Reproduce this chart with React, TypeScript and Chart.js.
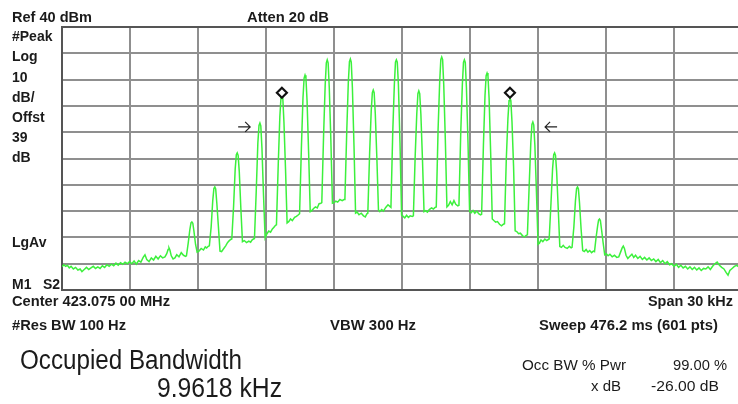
import { useEffect, useRef } from "react";
import { Chart, registerables } from "chart.js";

Chart.register(...registerables);

// ---- axis settings (kHz offset from centre, dBm) ----
const xMinKHz = -15;
const xMaxVisibleKHz = 14.82;
const xGridKHz = [-15, -12, -9, -6, -3, 0, 3, 6, 9, 12];
const yMinDbm = -60;
const yMaxDbm = 40;
const yGridDbm = [-60, -50, -40, -30, -20, -10, 0, 10, 20, 30, 40];

// ---- trace: [kHz from centre, dBm] ----
const traceLowLeft: [number, number][] = [
  [-15.0, -51.2], [-14.92, -50.4], [-14.84, -51.0], [-14.76, -50.6], [-14.68, -51.6], [-14.6, -51.0],
  [-14.5, -52.0], [-14.4, -51.4], [-14.3, -52.4], [-14.2, -52.0], [-14.12, -53.0], [-14.02, -52.2],
  [-13.92, -51.4], [-13.82, -52.2], [-13.72, -51.6], [-13.62, -51.0], [-13.52, -51.8], [-13.42, -51.2],
  [-13.32, -51.8], [-13.22, -50.8], [-13.12, -51.4], [-13.02, -50.4], [-12.92, -51.0], [-12.82, -50.2],
  [-12.72, -50.8], [-12.62, -49.8], [-12.52, -50.6], [-12.42, -49.6], [-12.32, -50.2], [-12.22, -49.4],
  [-12.12, -50.0], [-12.02, -49.2], [-11.92, -50.0], [-11.82, -49.0], [-11.72, -50.2], [-11.62, -48.8],
  [-11.52, -49.4], [-11.42, -47.6], [-11.34, -46.6], [-11.26, -48.4], [-11.16, -49.2], [-11.06, -47.8],
  [-10.96, -48.6], [-10.86, -47.2], [-10.76, -48.2], [-10.66, -47.0], [-10.56, -47.8],
];

const traceCarriers: [number, number][] = [
  // A
  [-10.46, -47.4], [-10.38, -46.2], [-10.32, -44.6], [-10.28, -44.0], [-10.24, -44.8], [-10.18, -47.0], [-10.1, -48.2],
  [-10.02, -47.8], [-9.94, -46.6], [-9.84, -47.4], [-9.74, -45.8], [-9.64, -46.8], [-9.55, -47.2],
  // B
  [-9.51, -47.0], [-9.43, -42.0], [-9.36, -37.0], [-9.31, -34.5], [-9.27, -34.1], [-9.23, -34.6], [-9.18, -37.6], [-9.11, -42.6], [-9.04, -45.6],
  [-8.96, -45.2], [-8.86, -44.2], [-8.76, -44.8], [-8.68, -43.6], [-8.62, -44.0], [-8.55, -43.4],
  // C
  [-8.5, -43.2], [-8.42, -36.0], [-8.35, -26.0], [-8.3, -21.4], [-8.26, -20.8], [-8.22, -21.6], [-8.17, -27.0], [-8.1, -36.0], [-8.03, -45.2],
  [-7.96, -45.4], [-7.88, -44.4], [-7.78, -43.2], [-7.7, -42.0], [-7.64, -41.4], [-7.56, -40.8],
  // D
  [-7.51, -40.6], [-7.43, -28.0], [-7.36, -14.0], [-7.31, -8.6], [-7.27, -7.9], [-7.23, -8.8], [-7.18, -15.0], [-7.11, -29.0], [-7.04, -41.6],
  [-6.96, -41.2], [-6.86, -42.0], [-6.76, -41.4], [-6.68, -41.8], [-6.62, -41.0], [-6.55, -40.6],
  // E
  [-6.51, -40.4], [-6.43, -22.0], [-6.36, -4.0], [-6.31, 2.6], [-6.27, 3.5], [-6.23, 2.4], [-6.18, -6.0], [-6.11, -24.0], [-6.04, -40.2],
  [-5.96, -38.6], [-5.88, -37.6], [-5.8, -38.0], [-5.72, -36.8], [-5.66, -36.2], [-5.58, -35.4],
  // F
  [-5.54, -35.2], [-5.46, -12.0], [-5.39, 6.0], [-5.34, 13.2], [-5.3, 14.1], [-5.26, 13.0], [-5.21, 4.0], [-5.14, -14.0], [-5.07, -34.5],
  [-5.0, -34.0], [-4.92, -33.0], [-4.84, -33.6], [-4.74, -32.4], [-4.66, -32.0], [-4.57, -31.4],
  // G
  [-4.52, -31.0], [-4.44, -6.0], [-4.37, 13.0], [-4.32, 20.6], [-4.28, 21.7], [-4.24, 20.6], [-4.19, 12.0], [-4.12, -8.0], [-4.05, -30.2],
  [-3.98, -29.8], [-3.9, -29.0], [-3.82, -28.4], [-3.74, -28.8], [-3.66, -27.2], [-3.58, -27.0],
  // H
  [-3.54, -26.8], [-3.46, -1.0], [-3.39, 18.0], [-3.34, 26.4], [-3.3, 27.5], [-3.26, 26.4], [-3.21, 17.0], [-3.14, -3.0], [-3.07, -27.0],
  [-3.0, -26.8], [-2.92, -26.2], [-2.84, -26.6], [-2.74, -25.6], [-2.64, -26.0], [-2.56, -25.6],
  // I
  [-2.52, -25.4], [-2.44, 0.0], [-2.37, 19.0], [-2.32, 26.8], [-2.28, 27.8], [-2.24, 26.6], [-2.19, 17.0], [-2.12, -5.0], [-2.05, -30.8],
  [-1.98, -30.4], [-1.9, -31.4], [-1.8, -30.8], [-1.7, -31.8], [-1.62, -32.2], [-1.55, -31.0],
  // J
  [-1.51, -30.8], [-1.43, -8.0], [-1.36, 8.0], [-1.31, 15.0], [-1.27, 16.0], [-1.23, 15.0], [-1.18, 7.0], [-1.11, -10.0], [-1.04, -29.6],
  [-0.98, -30.2], [-0.9, -29.4], [-0.82, -30.0], [-0.72, -28.6], [-0.62, -27.6], [-0.54, -28.2],
  // K
  [-0.49, -28.6], [-0.41, 0.0], [-0.34, 18.0], [-0.29, 26.6], [-0.25, 27.5], [-0.21, 26.6], [-0.16, 18.0], [-0.09, -4.0], [-0.02, -31.5],
  [0.05, -32.0], [0.12, -32.6], [0.2, -31.6], [0.28, -32.4], [0.36, -31.8], [0.45, -32.0],
  // L
  [0.5, -31.8], [0.58, -9.0], [0.65, 7.0], [0.7, 14.7], [0.74, 15.7], [0.78, 14.7], [0.83, 7.0], [0.9, -10.0], [0.97, -30.2],
  [1.04, -29.8], [1.12, -30.4], [1.2, -29.4], [1.3, -28.8], [1.38, -29.2], [1.46, -28.6],
  // M
  [1.51, -28.4], [1.59, 1.0], [1.66, 19.0], [1.71, 27.6], [1.75, 28.6], [1.79, 27.6], [1.84, 18.0], [1.91, -3.0], [1.98, -28.4],
  [2.05, -27.8], [2.13, -26.4], [2.21, -27.6], [2.29, -26.0], [2.37, -27.4], [2.46, -28.0],
  // N
  [2.51, -27.8], [2.59, 0.0], [2.66, 18.0], [2.71, 26.5], [2.75, 27.5], [2.79, 26.5], [2.84, 17.0], [2.91, -4.0], [2.98, -30.2],
  [3.05, -30.6], [3.13, -29.8], [3.21, -30.8], [3.3, -30.0], [3.38, -31.0], [3.46, -31.4],
  // O
  [3.51, -31.2], [3.59, -5.0], [3.66, 14.0], [3.71, 21.5], [3.75, 22.5], [3.79, 21.4], [3.84, 13.0], [3.91, -8.0], [3.98, -33.0],
  [4.05, -33.6], [4.13, -34.2], [4.21, -34.0], [4.3, -35.0], [4.39, -35.6], [4.47, -35.0],
  // P
  [4.52, -34.8], [4.6, -10.0], [4.67, 5.0], [4.72, 12.0], [4.76, 13.0], [4.8, 12.0], [4.85, 4.0], [4.92, -13.0], [4.99, -37.5],
  [5.06, -37.8], [5.14, -38.6], [5.22, -38.4], [5.32, -39.4], [5.4, -39.8], [5.48, -39.2],
  // Q
  [5.53, -39.0], [5.61, -20.0], [5.68, -4.0], [5.73, 3.0], [5.77, 3.9], [5.81, 2.8], [5.86, -5.0], [5.93, -23.0], [6.0, -42.6],
  [6.06, -42.2], [6.13, -41.0], [6.21, -41.6], [6.3, -40.6], [6.38, -41.2], [6.45, -40.8],
  // R
  [6.49, -40.6], [6.57, -27.0], [6.64, -14.0], [6.69, -8.6], [6.73, -7.9], [6.77, -8.8], [6.82, -15.0], [6.89, -29.0], [6.96, -43.5],
  [7.03, -43.8], [7.11, -43.0], [7.19, -43.8], [7.29, -44.2], [7.38, -43.4], [7.46, -44.0],
  // S
  [7.5, -43.8], [7.58, -36.0], [7.65, -26.0], [7.7, -21.4], [7.74, -20.8], [7.78, -21.6], [7.83, -27.0], [7.9, -37.0], [7.97, -45.0],
  [8.04, -45.4], [8.12, -44.6], [8.2, -45.6], [8.28, -45.0], [8.36, -45.8], [8.44, -45.2],
  // T
  [8.49, -45.4], [8.56, -40.0], [8.63, -35.5], [8.67, -33.4], [8.71, -33.0], [8.75, -33.6], [8.8, -37.0], [8.87, -42.0], [8.94, -46.6],
  [9.01, -46.2], [9.09, -47.0], [9.17, -46.4], [9.27, -47.4], [9.37, -46.8], [9.47, -47.6],
  // U
  [9.56, -47.4], [9.64, -45.6], [9.71, -44.0], [9.76, -43.3], [9.81, -44.2], [9.88, -46.8], [9.96, -48.0],
];

const traceLowRight: [number, number][] = [
  [10.05, -47.2], [10.14, -46.4], [10.22, -47.6], [10.3, -46.8], [10.4, -48.0], [10.5, -47.2], [10.6, -48.4],
  [10.7, -47.6], [10.8, -48.6], [10.9, -47.8], [11.0, -48.8], [11.1, -48.2], [11.2, -49.2], [11.3, -48.4],
  [11.4, -49.6], [11.5, -48.8], [11.6, -50.0], [11.7, -49.2], [11.8, -50.4], [11.9, -50.0], [12.0, -51.0],
  [12.1, -50.2], [12.2, -51.4], [12.3, -50.6], [12.4, -51.6], [12.5, -51.0], [12.6, -52.0], [12.7, -51.2],
  [12.8, -52.2], [12.9, -51.4], [13.0, -52.4], [13.1, -51.6], [13.2, -52.6], [13.3, -51.8], [13.4, -52.0],
  [13.5, -51.2], [13.6, -52.2], [13.7, -51.0], [13.8, -50.0], [13.9, -49.4], [14.0, -50.6], [14.1, -51.4],
  [14.2, -52.0], [14.3, -53.4], [14.38, -54.4], [14.46, -52.6], [14.56, -51.8], [14.66, -51.0], [14.76, -50.6],
  [14.86, -51.2], [15.0, -50.8],
];

// OBW markers (diamonds) and -26 dB arrows
const markerKHz = [-5.3, 4.76];
const markerDbm = [15.0, 15.0];
const arrowKHz = [-6.7, 6.31];
const arrowDbm = [2.0, 2.0];
const arrowDir = [1, -1];

// ---- annotation texts ----
type Txt = { text: string; left: number; right?: number; base: number; size: number; bold: boolean };
const texts: Txt[] = [
  { text: "Ref 40 dBm", left: 12, right: 92, base: 22, size: 14, bold: true },
  { text: "Atten 20 dB", left: 247, right: 329, base: 22, size: 14, bold: true },
  { text: "#Peak", left: 12, base: 41, size: 14, bold: true },
  { text: "Log", left: 12, base: 61, size: 14, bold: true },
  { text: "10", left: 12, base: 82, size: 14, bold: true },
  { text: "dB/", left: 12, base: 102, size: 14, bold: true },
  { text: "Offst", left: 12, base: 122, size: 14, bold: true },
  { text: "39", left: 12, base: 142, size: 14, bold: true },
  { text: "dB", left: 12, base: 162, size: 14, bold: true },
  { text: "LgAv", left: 12, base: 247, size: 14, bold: true },
  { text: "M1", left: 12, base: 289, size: 14, bold: true },
  { text: "S2", left: 43, base: 289, size: 14, bold: true },
  { text: "Center 423.075 00 MHz", left: 12, right: 170, base: 306, size: 14, bold: true },
  { text: "Span 30 kHz", left: 648, right: 733, base: 306, size: 14, bold: true },
  { text: "#Res BW 100 Hz", left: 12, right: 126, base: 330, size: 14, bold: true },
  { text: "VBW 300 Hz", left: 330, right: 416, base: 330, size: 14, bold: true },
  { text: "Sweep 476.2 ms (601 pts)", left: 539, right: 718, base: 330, size: 14, bold: true },
  { text: "Occupied Bandwidth", left: 20, right: 242, base: 369, size: 27, bold: false },
  { text: "9.9618 kHz", left: 157, right: 282, base: 397, size: 27, bold: false },
  { text: "Occ BW % Pwr", left: 522, right: 626, base: 370, size: 15, bold: false },
  { text: "99.00 %", left: 673, right: 727, base: 370, size: 15, bold: false },
  { text: "x dB", left: 591, right: 621, base: 391, size: 15, bold: false },
  { text: "-26.00 dB", left: 651, right: 719, base: 391, size: 15, bold: false },
];

const textPlugin = {
  id: "saTexts",
  afterDraw(chart: any) {
    const ctx = chart.ctx as CanvasRenderingContext2D;
    ctx.save();
    ctx.fillStyle = "#1b1b1b";
    ctx.textBaseline = "alphabetic";
    ctx.textAlign = "left";
    for (const t of texts) {
      ctx.font = `${t.bold ? "bold " : ""}${t.size}px "Liberation Sans", Arial, sans-serif`;
      const w = ctx.measureText(t.text).width;
      const sx = t.right !== undefined ? (t.right - t.left) / w : 1;
      ctx.save();
      ctx.translate(t.left, t.base);
      ctx.scale(sx, 1);
      ctx.fillText(t.text, 0, 0);
      ctx.restore();
    }
    ctx.restore();
  },
  afterDatasetsDraw(chart: any) {
    const ctx = chart.ctx as CanvasRenderingContext2D;
    const xs = chart.scales.x;
    const ys = chart.scales.y;
    ctx.save();
    ctx.strokeStyle = "#222";
    ctx.lineWidth = 1.2;
    for (let i = 0; i < arrowKHz.length; i++) {
      const tx = xs.getPixelForValue(arrowKHz[i]);
      const ty = ys.getPixelForValue(arrowDbm[i]);
      const d = arrowDir[i];
      ctx.beginPath();
      ctx.moveTo(tx - d * 12, ty);
      ctx.lineTo(tx, ty);
      ctx.moveTo(tx - d * 5, ty - 5);
      ctx.lineTo(tx, ty);
      ctx.lineTo(tx - d * 5, ty + 5);
      ctx.stroke();
    }
    ctx.restore();
  },
};

export default function App() {
  const ref = useRef<HTMLCanvasElement | null>(null);
  useEffect(() => {
    if (!ref.current) return;
    const trace = [...traceLowLeft, ...traceCarriers, ...traceLowRight].map(([x, y]) => ({ x, y }));
    const markers = markerKHz.map((x, i) => ({ x, y: markerDbm[i] }));
    const chart = new Chart(ref.current, {
      type: "line",
      data: {
        datasets: [
          {
            label: "markers",
            data: markers,
            showLine: false,
            pointStyle: "rectRot",
            pointRadius: 5,
            pointBorderWidth: 2.2,
            pointBorderColor: "#111",
            pointBackgroundColor: "#fff",
            order: 0,
          } as any,
          {
            label: "trace",
            data: trace,
            borderColor: "#3cf03c",
            borderWidth: 1.5,
            pointRadius: 0,
            tension: 0,
            fill: false,
            order: 1,
          },
        ],
      },
      options: {
        animation: false,
        responsive: false,
        events: [],
        layout: { autoPadding: false, padding: { left: 62, top: 27, right: 0, bottom: 114 } },
        plugins: { legend: { display: false }, tooltip: { enabled: false } },
        scales: {
          x: {
            type: "linear",
            min: xMinKHz,
            max: xMaxVisibleKHz,
            afterBuildTicks: (s: any) => {
              s.ticks = xGridKHz.map((v) => ({ value: v }));
            },
            ticks: { display: false },
            grid: {
              color: (c: any) => (c.tick && c.tick.value === xMinKHz ? "#555" : "#8f8f8f"),
              lineWidth: 2,
              drawTicks: false,
            },
            border: { display: true, color: "#555", width: 2 },
          },
          y: {
            type: "linear",
            min: yMinDbm,
            max: yMaxDbm,
            afterBuildTicks: (s: any) => {
              s.ticks = yGridDbm.map((v) => ({ value: v }));
            },
            ticks: { display: false },
            grid: {
              color: (c: any) =>
                c.tick && (c.tick.value === yMaxDbm || c.tick.value === yMinDbm) ? "#555" : "#8f8f8f",
              lineWidth: 2,
              drawTicks: false,
            },
            border: { display: true, color: "#555", width: 2 },
          },
        },
      },
      plugins: [textPlugin],
    });
    return () => chart.destroy();
  }, []);
  return (
    <div style={{ position: "fixed", left: 0, top: 0, width: 738, height: 404, background: "#fff" }}>
      <canvas ref={ref} width={738} height={404} style={{ display: "block" }} />
    </div>
  );
}
